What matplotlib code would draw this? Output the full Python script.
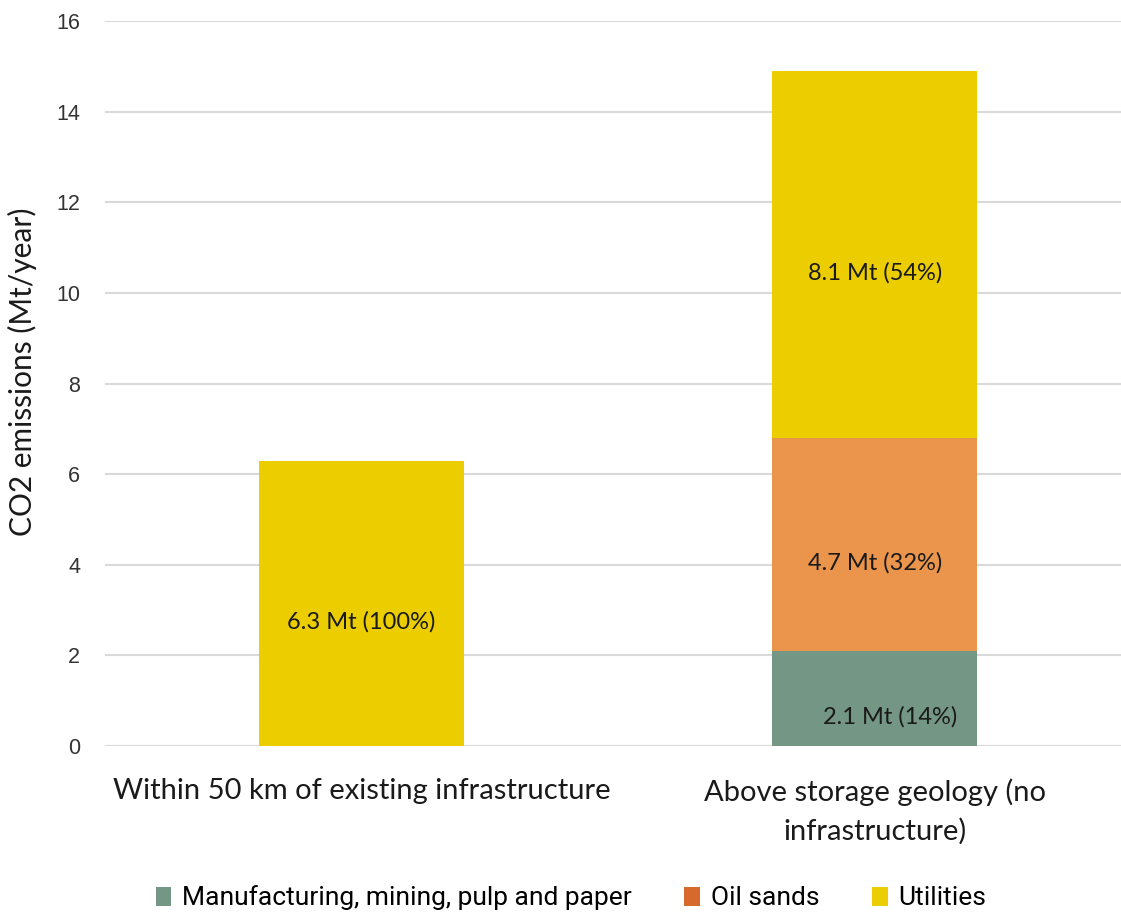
import matplotlib
matplotlib.use("Agg")
import matplotlib.pyplot as plt
from matplotlib.patches import Patch
import numpy as np

# ---- data ----
categories = ["Within 50 km of existing infrastructure",
              "Above storage geology (no\ninfrastructure)"]
series_names = ["Manufacturing, mining, pulp and paper", "Oil sands", "Utilities"]
manufacturing = [0.0, 2.1]
oil_sands = [0.0, 4.7]
utilities = [6.3, 8.1]
labels_manufacturing = ["", "2.1 Mt (14%)"]
labels_oil_sands = ["", "4.7 Mt (32%)"]
labels_utilities = ["6.3 Mt (100%)", "8.1 Mt (54%)"]
yticks = [0, 2, 4, 6, 8, 10, 12, 14, 16]

bar_colors = ["#749685", "#EA954B", "#EBCD00"]
legend_colors = ["#749685", "#D8692D", "#EBCD00"]

W, H = 1121, 915
fig = plt.figure(figsize=(W / 100, H / 100), dpi=100)
ax = fig.add_axes([105 / W, 1 - 746 / H, 1 - 105 / W, (746 - 21) / H])

x = np.arange(len(categories))
width = 0.4
bottom = np.zeros(len(categories))
all_vals = [manufacturing, oil_sands, utilities]
all_labels = [labels_manufacturing, labels_oil_sands, labels_utilities]
label_dx = [0.03, 0.0, 0.0]
for vals, labs, col, dx in zip(all_vals, all_labels, bar_colors, label_dx):
    vals = np.array(vals)
    ax.bar(x, vals, width, bottom=bottom, color=col, zorder=3)
    for i, (v, lab) in enumerate(zip(vals, labs)):
        if v > 0 and lab:
            ax.text(x[i] + dx, bottom[i] + v / 2 - 0.4, lab, ha="center", va="center",
                    fontsize=17, family="Lato", color="#1a1a1a", zorder=4)
    bottom = bottom + vals

ax.set_xlim(-0.5, 1.48)
ax.set_ylim(0, 16)
ax.set_yticks(yticks)
ax.set_yticklabels([str(t) for t in yticks], family="Liberation Sans", fontsize=15.5, color="#333333")
ax.tick_params(axis="y", length=0, pad=18)
ax.tick_params(axis="x", length=0, pad=23)
ax.set_xticks(x)
ax.set_xticklabels(categories, family="Lato", fontsize=21, color="#1a1a1a", linespacing=1.55)
ax.grid(axis="y", color="#D9D9D9", linewidth=1.5, zorder=0)
for s in ax.spines.values():
    s.set_visible(False)

fig.text(22 / W, 1 - 372 / H, "CO2 emissions (Mt/year)", rotation=90, ha="center", va="center",
         family="Lato", fontsize=21.5, color="#1a1a1a")

handles = [Patch(facecolor=c, edgecolor="none") for c in legend_colors]
fig.legend(handles, series_names, loc="center", bbox_to_anchor=(571 / W, 1 - 898 / H), ncol=3,
           frameon=False, prop={"family": "Roboto", "size": 19}, handlelength=0.6, handleheight=0.75,
           handletextpad=0.4, columnspacing=2.0)

fig.savefig("out.png", dpi=100)
